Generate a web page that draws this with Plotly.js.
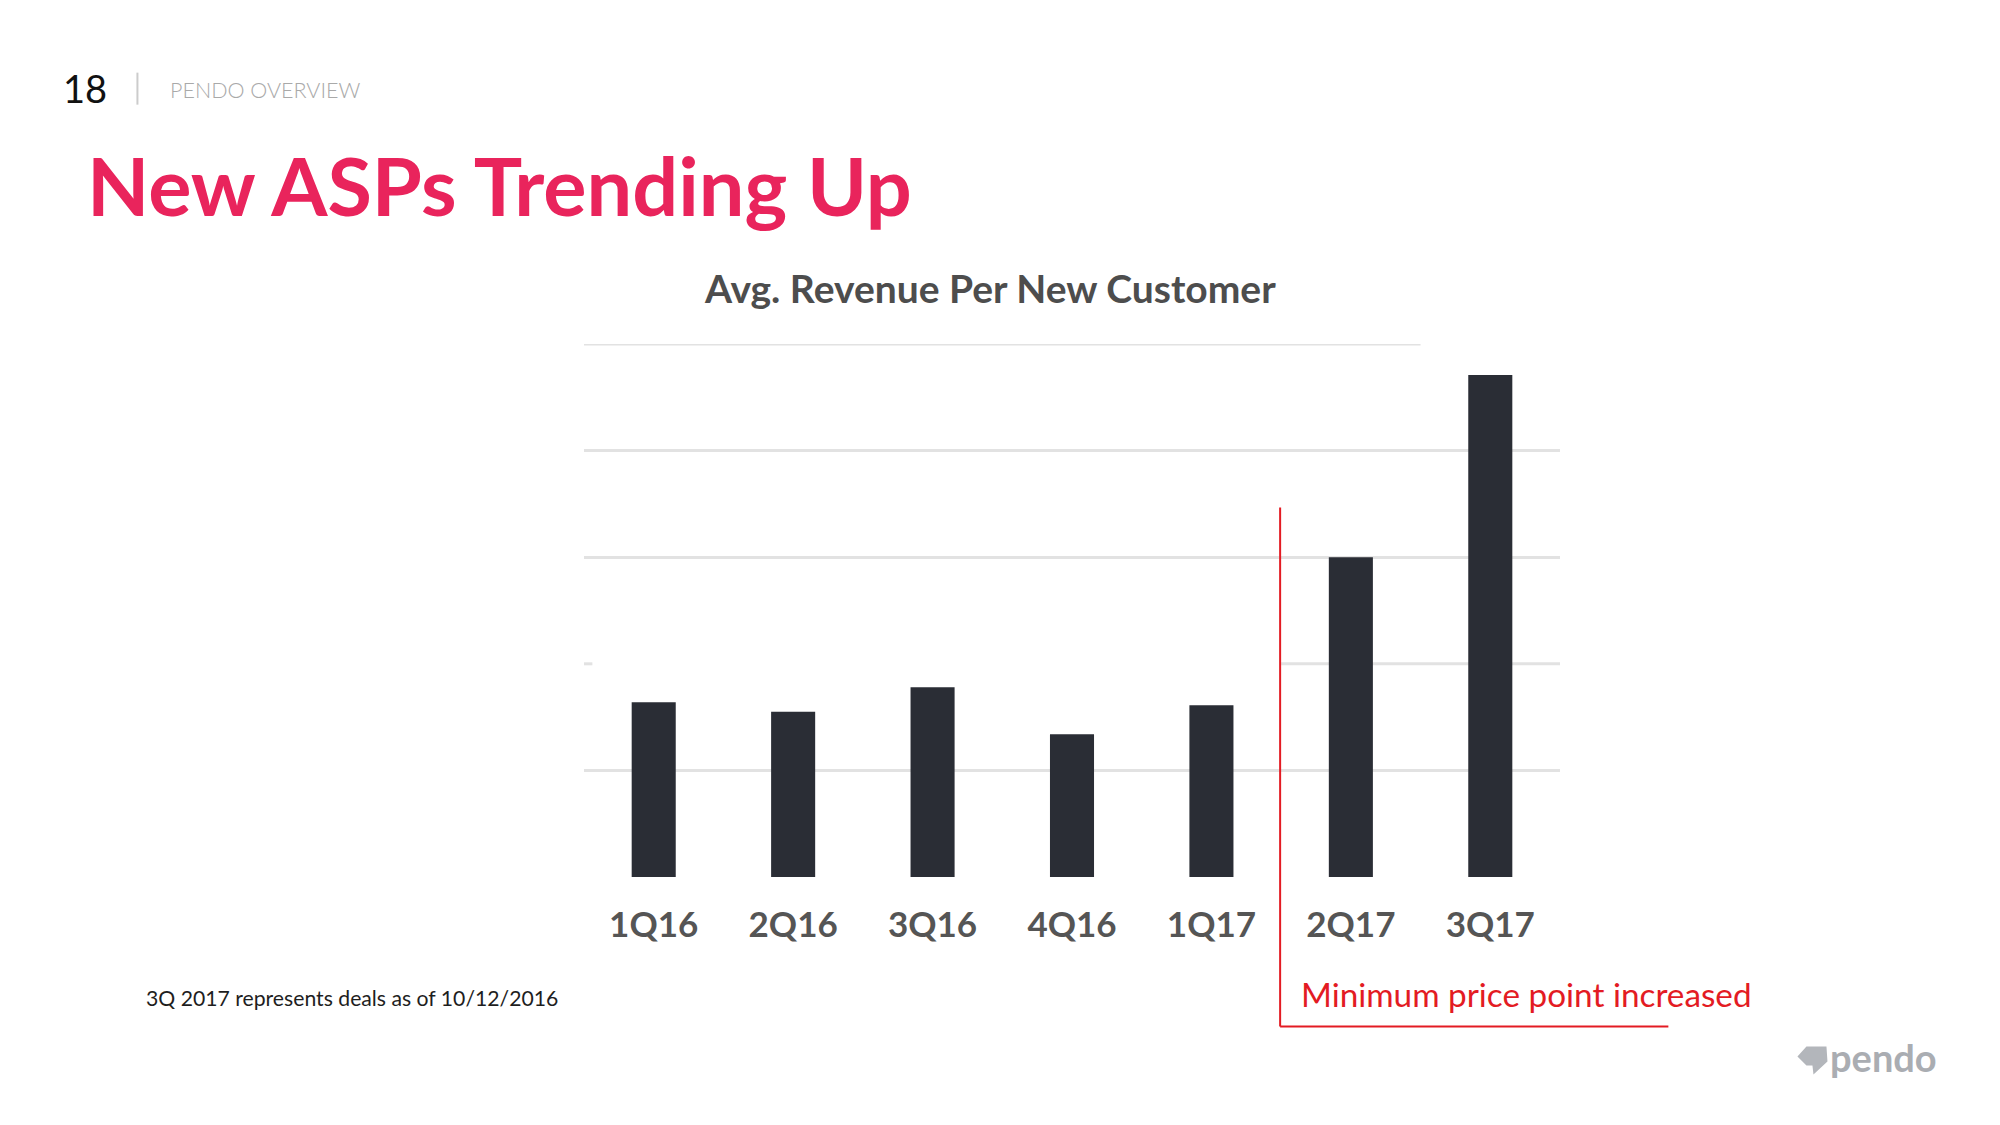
<!DOCTYPE html>
<html>
<head>
<meta charset="utf-8">
<script src="https://cdn.plot.ly/plotly-3.0.1.min.js"></script>
<style>html,body{margin:0;padding:0;background:#fff;}#chart{width:2000px;height:1125px;}</style>
</head>
<body>
<div id="chart"></div>
<script>
// ---- data (values in chart grid units) ----
var quarters = ["1Q16", "2Q16", "3Q16", "4Q16", "1Q17", "2Q17", "3Q17"];
var avgRevenue = [1.64, 1.55, 1.78, 1.34, 1.61, 3.0, 4.71];
var gridTicks = [0, 1, 3, 4];
var pageNumber = "18";
var sectionLabel = "PENDO OVERVIEW";
var slideTitle = "New ASPs Trending Up";
var chartTitle = "Avg. Revenue Per New Customer";
var footnote = "3Q 2017 represents deals as of 10/12/2016";
var calloutText = "Minimum price point increased";

// ---- layout geometry ----
var W = 2000, H = 1125;
var L = 584.3, R = 1559.7, T = 344.4, B = 877.5;
var PW = R - L, PH = B - T;
function px(x) { return (x - L) / PW; }
function py(y) { return (B - y) / PH; }

var FONT = "Lato, 'Open Sans', sans-serif";

var trace = {
  type: "bar",
  x: quarters,
  y: avgRevenue,
  marker: { color: "#2a2d35", line: { width: 0 } },
  hoverinfo: "x+y"
};

function ann(text, x, y, size, color, weight, anchor) {
  return {
    text: text, xref: "paper", yref: "paper", x: px(x), y: py(y),
    xanchor: anchor || "left", yanchor: "middle", showarrow: false,
    font: { family: FONT, size: size, color: color, weight: weight || 400 }
  };
}

var layout = {
  width: W, height: H,
  margin: { l: L, r: W - R, t: T, b: H - B, pad: 0 },
  paper_bgcolor: "#ffffff", plot_bgcolor: "#ffffff",
  showlegend: false,
  bargap: 0.684,
  xaxis: {
    type: "category", range: [-0.5, 6.5], fixedrange: true,
    showgrid: false, zeroline: false, showline: false, ticks: "",
    tickfont: { family: FONT, size: 35, color: "#555555", weight: 700 },
    ticklabelstandoff: 24
  },
  yaxis: {
    range: [0, 5], fixedrange: true,
    tickmode: "array", tickvals: gridTicks, showticklabels: false,
    showgrid: true, gridcolor: "#e2e2e2", gridwidth: 3,
    zeroline: false, showline: false, ticks: ""
  },
  shapes: [
    // partial gridline at 2 (right of callout line) + left stub
    { type: "line", xref: "x", yref: "y", x0: 4.5, x1: 6.5, y0: 2, y1: 2, layer: "below",
      line: { color: "#e2e2e2", width: 3 } },
    { type: "line", xref: "x", yref: "y", x0: -0.5, x1: -0.44, y0: 2, y1: 2, layer: "below",
      line: { color: "#e2e2e2", width: 3 } },
    // top gridline at 5, shorter
    { type: "line", xref: "x", yref: "y", x0: -0.5, x1: 5.5, y0: 5, y1: 5, layer: "below",
      line: { color: "#e2e2e2", width: 3 } },
    // red callout bracket
    { type: "line", xref: "paper", yref: "paper", x0: px(1280), x1: px(1280), y0: py(508), y1: py(1027),
      line: { color: "#e31b23", width: 2 } },
    { type: "line", xref: "paper", yref: "paper", x0: px(1280), x1: px(1668), y0: py(1027), y1: py(1027),
      line: { color: "#e31b23", width: 2 } },
    // header separator
    { type: "line", xref: "paper", yref: "paper", x0: px(138), x1: px(138), y0: py(73), y1: py(105),
      line: { color: "#cccccc", width: 2 } },
    // pendo logo mark
    { type: "path", xref: "paper", yref: "paper",
      path: "M " + px(1797) + "," + py(1057) + " L " + px(1806) + "," + py(1047) + " L " + px(1826) + "," + py(1047) +
            " L " + px(1827) + "," + py(1062) + " L " + px(1813) + "," + py(1075) + " L " + px(1812) + "," + py(1066) +
            " L " + px(1806) + "," + py(1066) + " Z",
      fillcolor: "#b3b6bb", line: { width: 0 } }
  ],
  annotations: [
    ann(pageNumber, 62, 88, 38, "#111111", 400),
    ann(sectionLabel, 169, 90, 21.5, "#a9a9a9", 300),
    ann(slideTitle, 86, 185, 81, "#e9245c", 700),
    ann(chartTitle, 990, 288, 39, "#4d4d4d", 700, "center"),
    ann(footnote, 145, 999, 21.2, "#1e1e1e", 400),
    ann(calloutText, 1299, 995, 33.3, "#e31b23", 400),
    ann("pendo", 1828, 1058, 38, "#aaadb2", 700)
  ]
};

Plotly.newPlot("chart", [trace], layout, { staticPlot: true, displayModeBar: false });
</script>
</body>
</html>
